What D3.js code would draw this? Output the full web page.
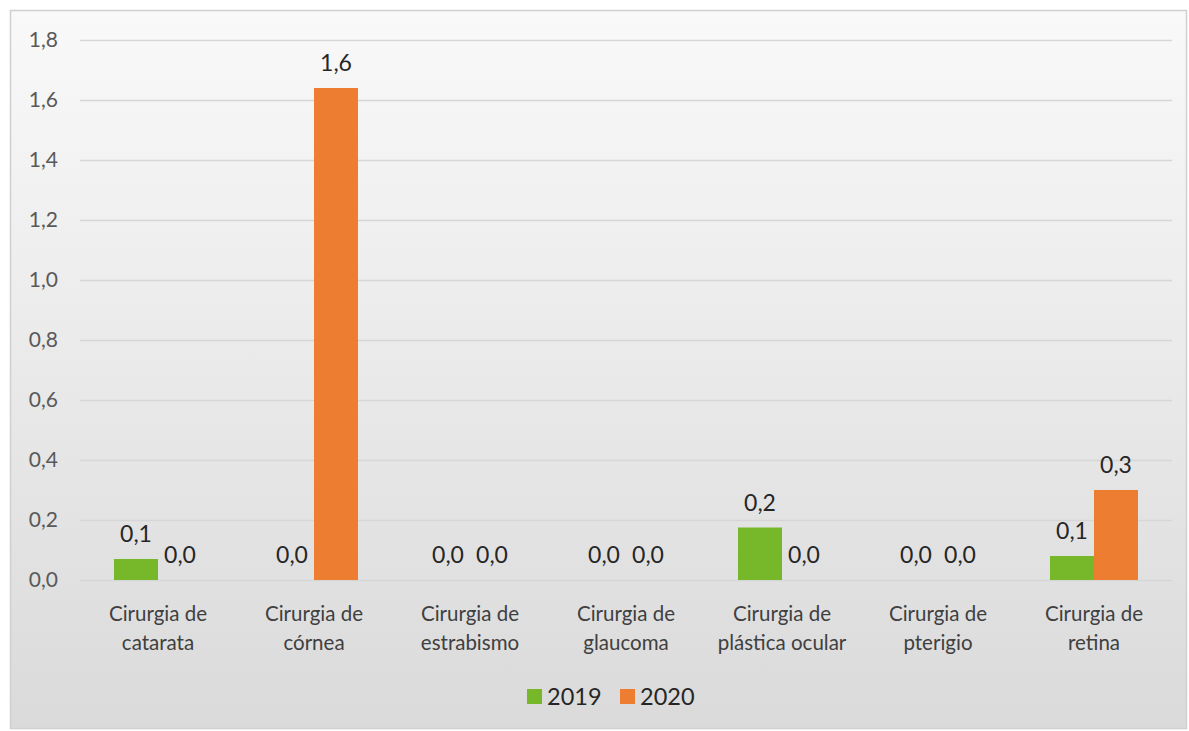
<!DOCTYPE html>
<html><head><meta charset="utf-8">
<script src="https://cdn.jsdelivr.net/npm/d3@7/dist/d3.min.js"></script>
<style>html,body{margin:0;padding:0;background:#fff;}svg{display:block;}</style>
</head><body>
<svg id="c" width="1189" height="731"></svg>
<script>
const categories = [["Cirurgia de","catarata"],["Cirurgia de","córnea"],["Cirurgia de","estrabismo"],["Cirurgia de","glaucoma"],["Cirurgia de","plástica ocular"],["Cirurgia de","pterigio"],["Cirurgia de","retina"]];
const seriesNames = ["2019","2020"];
const values2019 = [0.07, 0.0, 0.0, 0.0, 0.175, 0.0, 0.08];
const values2020 = [0.0, 1.64, 0.0, 0.0, 0.0, 0.0, 0.30];
const yTicks = [0,0.2,0.4,0.6,0.8,1.0,1.2,1.4,1.6,1.8];
const colors = ["#76b82a","#ed7d31"];

(function(){
const svg = d3.select("#c");
const defs = svg.append("defs");
const g = defs.append("linearGradient").attr("id","bg").attr("x1",0).attr("y1",0).attr("x2",0).attr("y2",1);
g.append("stop").attr("offset","0%").attr("stop-color","#f9f9f9");
g.append("stop").attr("offset","100%").attr("stop-color","#dadada");
svg.append("rect").attr("x",10.5).attr("y",10.5).attr("width",1176).attr("height",718)
  .attr("fill","url(#bg)").attr("stroke","#d0d0d0").attr("stroke-width",1.5);

const mL=80, mR=1172, mT=40, mB=580;
const x = d3.scaleBand().domain(d3.range(categories.length)).range([mL,mR]).paddingInner(0.436).paddingOuter(0.218);
const x1 = d3.scaleBand().domain([0,1]).range([0,x.bandwidth()]);
const y = d3.scaleLinear().domain([0,1.8]).range([mB,mT]);
const fmt = v => d3.format(".1f")(v).replace(".",",");
const font = "Lato, 'Open Sans', sans-serif";

svg.append("g").selectAll("line").data(yTicks).join("line")
  .attr("x1",mL).attr("x2",mR).attr("y1",d=>Math.round(y(d))+0.5).attr("y2",d=>Math.round(y(d))+0.5)
  .attr("stroke","#d6d6d6").attr("stroke-width",1.5);

const yAxis = svg.append("g").attr("transform",`translate(${mL},0)`)
  .call(d3.axisLeft(y).tickValues(yTicks).tickFormat(fmt).tickSize(0).tickPadding(22));
yAxis.select(".domain").remove();
yAxis.selectAll("text").attr("font-family",font).attr("font-size",21).attr("fill","#595959");

const xAxis = svg.append("g").attr("transform",`translate(0,${mB})`)
  .call(d3.axisBottom(x).tickSize(0).tickFormat(""));
xAxis.select(".domain").remove();
xAxis.selectAll(".tick").each(function(d){
  const t = d3.select(this).append("text").attr("font-family",font).attr("font-size",20.5)
    .attr("fill","#404040").attr("text-anchor","middle");
  categories[d].forEach((line,i)=>t.append("tspan").attr("x",0).attr("y",41+i*29).text(line));
});

const data = categories.map((c,i)=>[values2019[i],values2020[i]]);
const grp = svg.append("g").selectAll("g").data(data).join("g")
  .attr("transform",(d,i)=>`translate(${x(i)},0)`);
grp.selectAll("rect").data(d=>d).join("rect")
  .attr("x",(d,j)=>x1(j)).attr("width",x1.bandwidth())
  .attr("y",d=>y(d)).attr("height",d=>mB-y(d)).attr("fill",(d,j)=>colors[j]);
grp.selectAll("text").data(d=>d).join("text")
  .attr("x",(d,j)=>x1(j)+x1.bandwidth()/2).attr("y",d=>y(d)-17)
  .attr("text-anchor","middle").attr("font-family",font).attr("font-size",23).attr("fill","#262626")
  .text(d=>fmt(d));

const lg = svg.append("g").attr("transform","translate(527,689)");
seriesNames.forEach((s,i)=>{
  const o = i*93;
  lg.append("rect").attr("x",o).attr("y",0).attr("width",15).attr("height",15).attr("fill",colors[i]);
  lg.append("text").attr("x",o+20).attr("y",16).attr("font-family",font).attr("font-size",23.5)
    .attr("fill","#262626").text(s);
});
})();
</script>
</body></html>
